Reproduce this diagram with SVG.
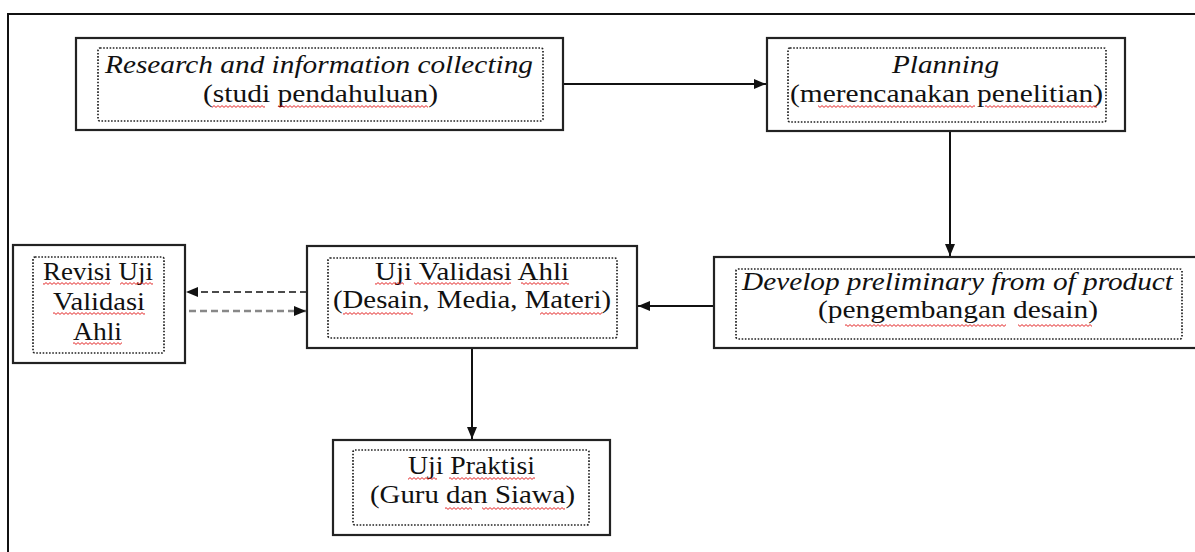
<svg xmlns="http://www.w3.org/2000/svg" width="1195" height="552" viewBox="0 0 1195 552">
<defs>
<style>
.box{fill:#fff;stroke:#222;stroke-width:2.2}
.inner{fill:none;stroke:#222;stroke-width:1.7;stroke-dasharray:1.6 1.6}
.t{font-family:"Liberation Serif","Times New Roman",serif;font-size:25px;fill:#111;text-anchor:middle}
.it{font-style:italic}
.ln{stroke:#111;stroke-width:2;fill:none}
.sq{fill:url(#sqp)}
</style>
<pattern id="sqp" width="4" height="3" patternUnits="userSpaceOnUse">
<path d="M0 2.4 L2 0.6 L4 2.4" fill="none" stroke="#e01010" stroke-width="0.9"/>
</pattern>
<marker id="ah" markerUnits="userSpaceOnUse" markerWidth="13" markerHeight="12" refX="12" refY="6" orient="auto">
<path d="M0,1 L12,6 L0,11 z" fill="#111"/>
</marker>
</defs>
<rect width="1195" height="552" fill="#fff"/>
<rect x="8" y="14" width="1200" height="560" fill="none" stroke="#111" stroke-width="2"/>

<g id="connectors">
<line class="ln" x1="563" y1="84" x2="766" y2="84" marker-end="url(#ah)"/>
<line class="ln" x1="950" y1="131" x2="950" y2="256" marker-end="url(#ah)"/>
<line class="ln" x1="714" y1="306" x2="638" y2="306" marker-end="url(#ah)"/>
<line class="ln" x1="472" y1="348" x2="472" y2="439" marker-end="url(#ah)"/>
<line x1="307" y1="292" x2="186" y2="292" stroke="#111" stroke-width="1.6" stroke-dasharray="7 4" marker-end="url(#ah)"/>
<line x1="189" y1="311" x2="306" y2="311" stroke="#888" stroke-width="2.6" stroke-dasharray="7 4" marker-end="url(#ah)"/>
</g>

<g id="node-research">
<rect class="box" x="76" y="38" width="487" height="92"/>
<rect class="inner" x="98" y="48" width="445" height="73" rx="2"/>
<text class="t it" x="319" y="73" textLength="428" lengthAdjust="spacingAndGlyphs">Research and information collecting</text>
<text class="t" x="320.5" y="102" textLength="235" lengthAdjust="spacingAndGlyphs">(studi pendahuluan)</text>
<rect class="sq" x="212" y="105" width="53" height="3"/>
<rect class="sq" x="278" y="105" width="150" height="3"/>
</g>

<g id="node-planning">
<rect class="box" x="767" y="38" width="358" height="93"/>
<rect class="inner" x="788" y="48" width="318" height="74" rx="2"/>
<text class="t it" x="945.5" y="73" textLength="107" lengthAdjust="spacingAndGlyphs">Planning</text>
<text class="t" x="946.5" y="102" textLength="313" lengthAdjust="spacingAndGlyphs">(merencanakan penelitian)</text>
<rect class="sq" x="818" y="105" width="157" height="3"/>
<rect class="sq" x="985" y="105" width="112" height="3"/>
</g>

<g id="node-develop">
<rect class="box" x="714" y="257" width="500" height="91"/>
<rect class="inner" x="736" y="269" width="446" height="70" rx="2"/>
<text class="t it" x="957.5" y="290" textLength="431" lengthAdjust="spacingAndGlyphs">Develop preliminary from of product</text>
<text class="t" x="958" y="318" textLength="280" lengthAdjust="spacingAndGlyphs">(pengembangan desain)</text>
<rect class="sq" x="845" y="324" width="161" height="3"/>
<rect class="sq" x="1018" y="324" width="74" height="3"/>
</g>

<g id="node-validasi">
<rect class="box" x="307" y="246" width="330" height="102"/>
<rect class="inner" x="328" y="258" width="289" height="80" rx="2"/>
<text class="t" x="472" y="280" textLength="194" lengthAdjust="spacingAndGlyphs">Uji Validasi Ahli</text>
<text class="t" x="472" y="308" textLength="278" lengthAdjust="spacingAndGlyphs">(Desain, Media, Materi)</text>
<rect class="sq" x="375" y="282" width="29" height="3"/>
<rect class="sq" x="414" y="282" width="97" height="3"/>
<rect class="sq" x="521" y="282" width="48" height="3"/>
<rect class="sq" x="343" y="312" width="70" height="3"/>
<rect class="sq" x="540" y="312" width="62" height="3"/>
</g>

<g id="node-revisi">
<rect class="box" x="13" y="245" width="172" height="118"/>
<rect class="inner" x="33" y="257" width="131" height="96" rx="2"/>
<text class="t" x="98" y="280" textLength="110" lengthAdjust="spacingAndGlyphs">Revisi Uji</text>
<text class="t" x="99" y="310" textLength="92" lengthAdjust="spacingAndGlyphs">Validasi</text>
<text class="t" x="97.5" y="340" textLength="49" lengthAdjust="spacingAndGlyphs">Ahli</text>
<rect class="sq" x="43" y="282" width="67" height="3"/>
<rect class="sq" x="120" y="282" width="33" height="3"/>
<rect class="sq" x="53" y="312" width="92" height="3"/>
<rect class="sq" x="73" y="342" width="49" height="3"/>
</g>

<g id="node-praktisi">
<rect class="box" x="333" y="440" width="277" height="95"/>
<rect class="inner" x="353" y="450" width="236" height="75" rx="2"/>
<text class="t" x="471.5" y="474" textLength="127" lengthAdjust="spacingAndGlyphs">Uji Praktisi</text>
<text class="t" x="472.5" y="503" textLength="205" lengthAdjust="spacingAndGlyphs">(Guru dan Siawa)</text>
<rect class="sq" x="408" y="477" width="29" height="3"/>
<rect class="sq" x="449" y="477" width="86" height="3"/>
<rect class="sq" x="445" y="507" width="27" height="3"/>
<rect class="sq" x="482" y="507" width="83" height="3"/>
</g>
</svg>
